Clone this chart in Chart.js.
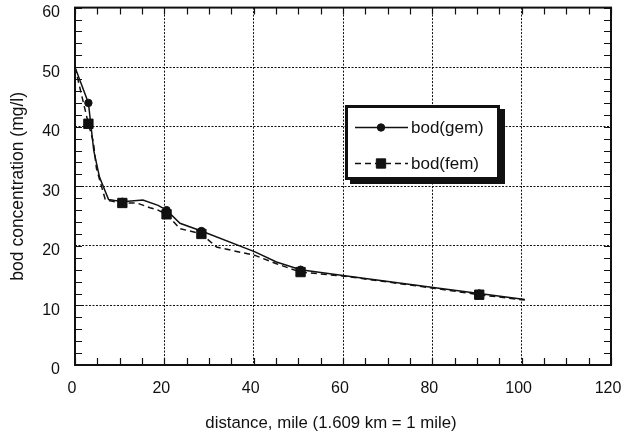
<!DOCTYPE html>
<html>
<head>
<meta charset="utf-8">
<script src="https://cdn.jsdelivr.net/npm/chart.js@4/dist/chart.umd.min.js"></script>
<style>
  html, body { margin: 0; padding: 0; background: #fff; }
  #wrap { width: 622px; height: 431px; position: relative; }
</style>
</head>
<body>
<div id="wrap"><canvas id="bod"></canvas></div>
<script>
// BOD profile along the river: two model solutions
const gemMiles = [0, 3, 4.2, 5.5, 7.5, 10.6, 15.2, 18.6, 20.5, 23.5, 28.3, 40.3, 45.1, 50.5, 60.4, 80.2, 90.5, 100.7];
const gemBod   = [50, 44, 36, 31.5, 27.8, 27.4, 27.7, 26.8, 26.0, 23.8, 22.5, 19.0, 17.3, 16.0, 15.0, 13.0, 12.0, 11.0];

const femMiles = [0, 3, 4.1, 4.8, 6.8, 10.6, 13.8, 16.8, 18.6, 20.5, 23.5, 28.3, 31.7, 40.3, 45.1, 50.5, 60.4, 80.2, 90.5, 100.7];
const femBod   = [50, 40.5, 37.5, 33, 27.7, 27.2, 27.2, 26.4, 26.0, 25.3, 22.9, 22.0, 19.8, 18.4, 17.0, 15.6, 14.9, 12.9, 11.8, 10.9];

// sampling stations where symbols are shown
const stationMiles = [3, 10.6, 20.5, 28.3, 50.5, 90.5];

const xTicks = [0, 20, 40, 60, 80, 100, 120];
const yTicks = [0, 10, 20, 30, 40, 50, 60];

const seriesNames = ['bod(gem)', 'bod(fem)'];
const xTitle = 'distance, mile (1.609 km = 1 mile)';
const yTitle = 'bod concentration (mg/l)';

const toPoints = (xs, ys) => xs.map((x, i) => ({ x: x, y: ys[i] }));
const atStations = (xs, ys) => toPoints(xs, ys).filter(p => stationMiles.includes(p.x));

const FONT = '"Liberation Sans", Arial, sans-serif';
const INK = '#111';

const gemStyle = { borderColor: INK, borderWidth: 1.5, borderDash: [], pointStyle: 'circle', pointRadius: 3.7, pointBackgroundColor: INK };
const femStyle = { borderColor: INK, borderWidth: 1.5, borderDash: [6, 4], pointStyle: 'rect', pointRadius: 6.6, pointBackgroundColor: INK };

// inward minor ticks and the frame around the plotting area
const frameTicks = {
  id: 'frameTicks',
  afterDatasetsDraw(chart) {
    const { ctx, chartArea: a, scales: { x, y } } = chart;
    ctx.save();
    ctx.strokeStyle = INK;
    ctx.lineWidth = 1.2;
    const len = 7;
    ctx.beginPath();
    for (let v = 0; v <= 60; v += 2) {
      const py = Math.round(y.getPixelForValue(v)) + 0.5;
      ctx.moveTo(a.left, py); ctx.lineTo(a.left + len, py);
      ctx.moveTo(a.right, py); ctx.lineTo(a.right - len, py);
    }
    for (let v = 0; v <= 120; v += 5) {
      const px = Math.round(x.getPixelForValue(v)) + 0.5;
      ctx.moveTo(px, a.top); ctx.lineTo(px, a.top + len);
      ctx.moveTo(px, a.bottom); ctx.lineTo(px, a.bottom - len);
    }
    ctx.stroke();
    ctx.lineWidth = 2;
    ctx.strokeRect(a.left, a.top, a.right - a.left, a.bottom - a.top);
    ctx.restore();
  }
};

// x-axis caption, set slightly left of the plot centre
const xCaption = {
  id: 'xCaption',
  afterDraw(chart) {
    const { ctx, chartArea: a } = chart;
    ctx.save();
    ctx.fillStyle = INK;
    ctx.font = '16.8px ' + FONT;
    ctx.textAlign = 'center';
    ctx.textBaseline = 'middle';
    ctx.fillText(xTitle, (a.left + a.right) / 2 - 12, chart.height - 8);
    ctx.restore();
  }
};

// boxed legend with drop shadow
const boxedLegend = {
  id: 'boxedLegend',
  afterDraw(chart) {
    const ctx = chart.ctx;
    const bx = 345, by = 105, bw = 155, bh = 75;
    ctx.save();
    ctx.fillStyle = INK;
    ctx.fillRect(bx + 5, by + 4, bw, bh);
    ctx.fillStyle = '#fff';
    ctx.fillRect(bx, by, bw, bh);
    ctx.lineWidth = 3;
    ctx.strokeStyle = INK;
    ctx.strokeRect(bx + 1.5, by + 1.5, bw - 3, bh - 3);

    const rows = [
      { label: seriesNames[0], style: gemStyle, y: 127 },
      { label: seriesNames[1], style: femStyle, y: 163 }
    ];
    rows.forEach(r => {
      ctx.strokeStyle = r.style.borderColor;
      ctx.lineWidth = r.style.borderWidth;
      ctx.setLineDash(r.style.borderDash);
      ctx.beginPath();
      ctx.moveTo(355, r.y + 0.5);
      ctx.lineTo(408, r.y + 0.5);
      ctx.stroke();
      ctx.setLineDash([]);
      ctx.fillStyle = r.style.pointBackgroundColor;
      ctx.strokeStyle = r.style.borderColor;
      ctx.lineWidth = 1;
      Chart.helpers.drawPoint(ctx, {
        pointStyle: r.style.pointStyle,
        radius: r.style.pointRadius,
        rotation: 0,
        borderWidth: 1
      }, 381, r.y + 0.5);
      ctx.fillStyle = INK;
      ctx.font = '17px ' + FONT;
      ctx.textBaseline = 'middle';
      ctx.textAlign = 'left';
      ctx.fillText(r.label, 411, r.y + 1);
    });
    ctx.restore();
  }
};

const zeroPad = scale => {
  scale.paddingLeft = 0; scale.paddingRight = 0;
  scale.paddingTop = 0; scale.paddingBottom = 0;
};

new Chart(document.getElementById('bod'), {
  type: 'scatter',
  data: {
    datasets: [
      { label: seriesNames[1], data: atStations(femMiles, femBod), showLine: false,
        pointStyle: femStyle.pointStyle, pointRadius: femStyle.pointRadius,
        backgroundColor: INK, borderColor: INK, borderWidth: 1, order: 0 },
      { label: seriesNames[0], data: atStations(gemMiles, gemBod), showLine: false,
        pointStyle: gemStyle.pointStyle, pointRadius: gemStyle.pointRadius,
        backgroundColor: INK, borderColor: INK, borderWidth: 1, order: 1 },
      { label: seriesNames[1], data: toPoints(femMiles, femBod), showLine: true,
        borderColor: femStyle.borderColor, borderWidth: femStyle.borderWidth,
        borderDash: femStyle.borderDash, pointRadius: 0, tension: 0, order: 2 },
      { label: seriesNames[0], data: toPoints(gemMiles, gemBod), showLine: true,
        borderColor: gemStyle.borderColor, borderWidth: gemStyle.borderWidth,
        pointRadius: 0, tension: 0, order: 3 }
    ]
  },
  options: {
    responsive: true,
    maintainAspectRatio: false,
    animation: false,
    layout: { padding: { left: 0, top: 7, right: 11, bottom: 0 } },
    plugins: { legend: { display: false }, tooltip: { enabled: false } },
    scales: {
      x: {
        type: 'linear', min: 0, max: 120,
        afterBuildTicks: s => { s.ticks = xTicks.map(v => ({ value: v })); },
        afterFit: s => { s.height = 66; zeroPad(s); },
        ticks: { color: INK, font: { family: FONT, size: 16 }, padding: 14, maxRotation: 0, labelOffset: -3 },
        grid: { color: INK, lineWidth: 1, drawTicks: false },
        border: { display: false, dash: [2, 1.5] },
        title: { display: false }
      },
      y: {
        type: 'linear', min: 0, max: 60,
        afterBuildTicks: s => { s.ticks = yTicks.map(v => ({ value: v })); },
        afterFit: s => { s.width = 75; zeroPad(s); },
        ticks: { color: INK, font: { family: FONT, size: 16 }, padding: 15, labelOffset: 5 },
        grid: { color: INK, lineWidth: 1, drawTicks: false },
        border: { display: false, dash: [2, 1.5] },
        title: { display: true, text: yTitle, color: INK,
                 font: { family: FONT, size: 17.5, lineHeight: 1 }, padding: { top: 9, bottom: 0 } }
      }
    }
  },
  plugins: [frameTicks, xCaption, boxedLegend]
});
</script>
</body>
</html>
